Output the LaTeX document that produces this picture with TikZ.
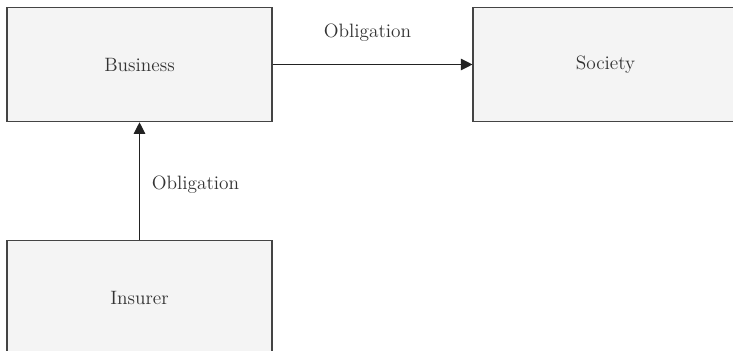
\documentclass[tikz,border=0pt]{standalone}
\usetikzlibrary{arrows.meta,positioning}

\definecolor{boxfill}{HTML}{F4F4F4}
\definecolor{boxline}{HTML}{444444}
\definecolor{arrowline}{HTML}{222222}

\tikzset{
  party/.style={draw=boxline,fill=boxfill,line width=0.9pt,minimum width=5.29cm,minimum height=2.28cm,inner sep=0pt,font=\fontsize{11}{13}\selectfont,text=black!80},
  duty/.style={draw=arrowline,line width=0.6pt,-{Triangle[length=0.23cm,width=0.23cm]}},
  dutylabel/.style={font=\fontsize{11}{13}\selectfont,text=black!80}
}

\begin{document}
\begin{tikzpicture}

  % Frame
  \clip (0,0) rectangle (14.66,-7.02);

  % Parties
  \node[party] (business) at (2.79,-1.29) {Business};
  \node[party] (society) at (12.11,-1.29) {Society};
  \node[party] (insurer) at (2.79,-5.95) {Insurer};

  % Obligations
  \draw[duty] (business) -- (society) node[dutylabel,midway,above=0.33cm,xshift=-0.1cm] {Obligation};
  \draw[duty] (insurer) -- (business) node[dutylabel,midway,right=0.12cm,yshift=-0.08cm] {Obligation};

\end{tikzpicture}
\end{document}
